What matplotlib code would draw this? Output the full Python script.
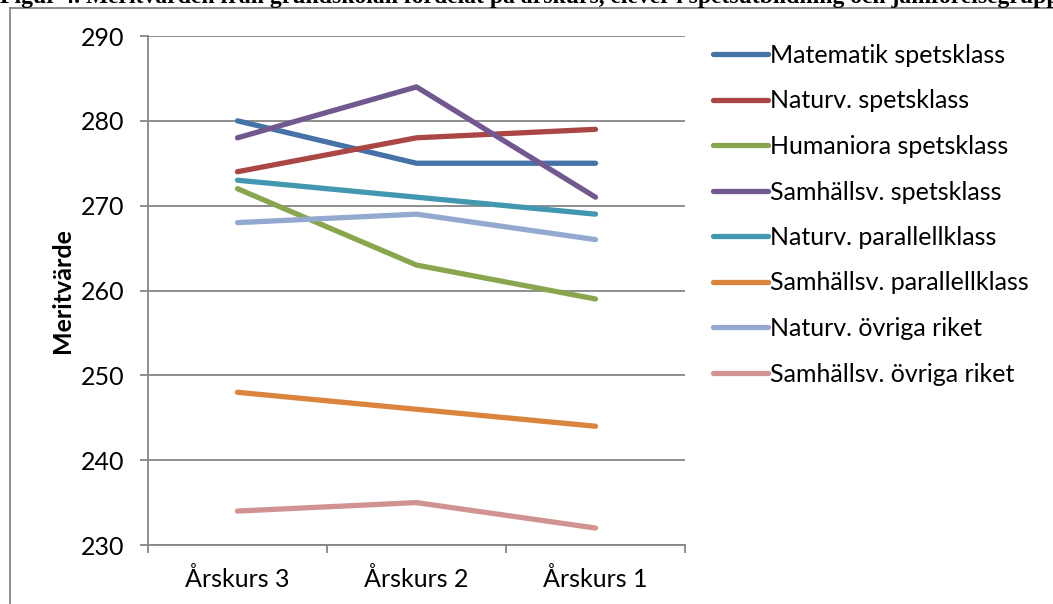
import matplotlib
matplotlib.use("agg")
import matplotlib.pyplot as plt
from matplotlib.lines import Line2D

# data
arskurs = ['Årskurs 3', 'Årskurs 2', 'Årskurs 1']
serier = ['Matematik spetsklass', 'Naturv. spetsklass', 'Humaniora spetsklass',
          'Samhällsv. spetsklass', 'Naturv. parallellklass', 'Samhällsv. parallellklass',
          'Naturv. övriga riket', 'Samhällsv. övriga riket']
matematik_spets = [280, 275, 275]
naturv_spets = [274, 278, 279]
humaniora_spets = [272, 263, 259]
samhallsv_spets = [278, 284, 271]
naturv_parallell = [273, 271, 269]
samhallsv_parallell = [248, 246, 244]
naturv_ovriga = [268, 269, 266]
samhallsv_ovriga = [234, 235, 232]
varden = [matematik_spets, naturv_spets, humaniora_spets, samhallsv_spets,
          naturv_parallell, samhallsv_parallell, naturv_ovriga, samhallsv_ovriga]
farger = ['#4572A7', '#AA4643', '#89A54E', '#71588F',
          '#4198AF', '#DB843D', '#93A9CF', '#D19392']

plt.rcParams['font.family'] = ['Lato', 'DejaVu Sans']

W, H = 1053, 604
fig = plt.figure(figsize=(W / 100, H / 100), dpi=100)
ax = fig.add_axes([148 / W, 1 - 545 / H, (685 - 148) / W, (545 - 36) / H])

x = range(len(arskurs))
for namn, v, c in zip(serier, varden, farger):
    ax.plot(x, v, color=c, linewidth=3.8, solid_capstyle='round', label=namn)

ax.set_xlim(-0.5, 2.5)
ax.set_ylim(230, 290)
ax.set_yticks(range(230, 291, 10))
ax.set_xticks(list(x))
ax.set_xticklabels(arskurs)
ax.set_xticks([-0.5, 0.5, 1.5, 2.5], minor=True)
ax.tick_params(axis='x', which='major', length=0, pad=16, labelsize=18)
ax.tick_params(axis='x', which='minor', length=5.8, color='#868686', width=1.3, direction='out')
ax.tick_params(axis='y', length=5.8, color='#868686', width=1.3, direction='out', pad=11, labelsize=18)
ax.grid(axis='y', color='#868686', linewidth=1.3)
ax.set_axisbelow(True)
for s in ['top', 'right']:
    ax.spines[s].set_visible(False)
for s in ['left', 'bottom']:
    ax.spines[s].set_color('#868686')
    ax.spines[s].set_linewidth(1.3)
ax.set_ylabel('Meritvärde', fontsize=18, fontweight='bold', labelpad=5)

leg = fig.legend(loc='upper left', bbox_to_anchor=(703 / W, 1 - 34 / H), frameon=False,
                 fontsize=18, handlelength=2.2, handletextpad=0.1, labelspacing=0.9,
                 borderaxespad=0)

# outer chart frame
fig.add_artist(Line2D([10 / W, 10 / W], [0, 1 - 8 / H], color='#868686', linewidth=1.3))
fig.add_artist(Line2D([10 / W, 1], [1 - 8 / H, 1 - 8 / H], color='#868686', linewidth=1.3))

# clipped caption above the chart
fig.text(0.0, 1 - 3 / H, 'Figur 4. Meritvärden från grundskolan fördelat på årskurs, elever i spetsutbildning och jämförelsegrupp',
         family='Liberation Serif', fontweight='bold', fontsize=17, ha='left', va='baseline')

fig.savefig('out.png', dpi=100)
